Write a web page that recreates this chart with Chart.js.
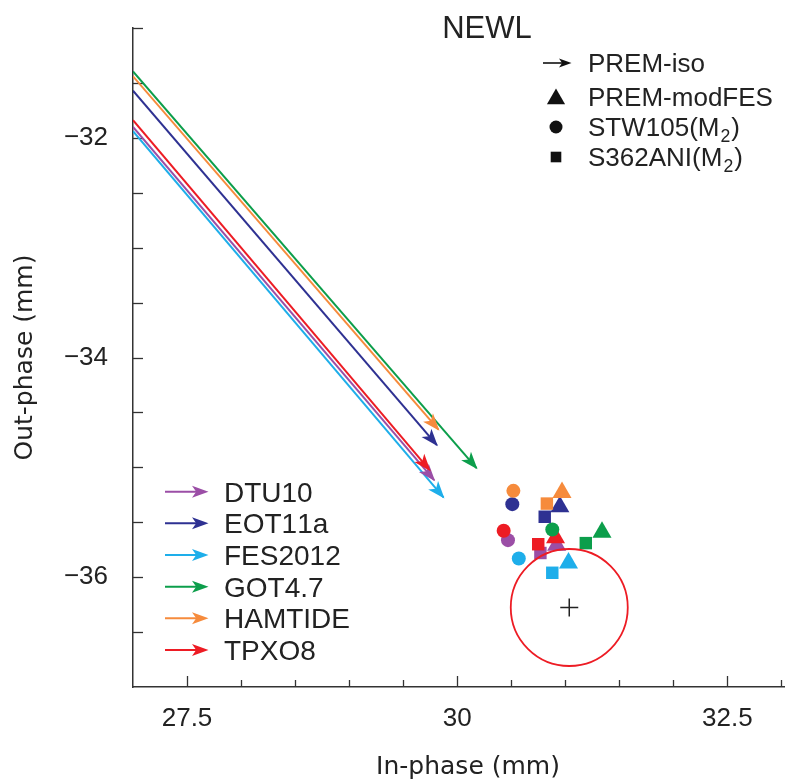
<!DOCTYPE html>
<html><head><meta charset="utf-8">
<script src="https://cdn.jsdelivr.net/npm/chart.js@4.4.1/dist/chart.umd.min.js"></script>
<style>html,body{margin:0;padding:0;overflow:hidden;background:#fff}canvas{display:block}</style>
</head><body>
<canvas id="c" width="805" height="784"></canvas>
<script>
// ---- data ----
const models = ['DTU10', 'EOT11a', 'FES2012', 'GOT4.7', 'HAMTIDE', 'TPXO8'];
const modelColors = ['#9b4ea6', '#2e3192', '#1eaeea', '#0c9e4b', '#f68b3c', '#ed1c24'];
// PREM-iso vectors (start at left plot edge, end at arrow tip)
const isoStartX = [27, 27, 27, 27, 27, 27];
const isoStartY = [-31.90, -31.57, -31.94, -31.396, -31.44, -31.84];
const isoEndX = [29.787, 29.812, 29.873, 30.179, 29.827, 29.745];
const isoEndY = [-35.116, -34.797, -35.274, -35.007, -34.656, -35.025];
// PREM-modFES (triangles)
const modFesX = [30.92, 30.95, 31.03, 31.34, 30.97, 30.91];
const modFesY = [-35.71, -35.36, -35.87, -35.59, -35.23, -35.64];
// STW105(M2) (circles)
const stwX = [30.47, 30.51, 30.57, 30.88, 30.52, 30.43];
const stwY = [-35.663, -35.335, -35.83, -35.566, -35.214, -35.578];
// S362ANI(M2) (squares)
const s362X = [30.77, 30.81, 30.88, 31.19, 30.83, 30.75];
const s362Y = [-35.78, -35.45, -35.96, -35.69, -35.33, -35.70];
// observed reference point
const refX = [31.037];
const refY = [-36.276];
const xTickLabels = [27.5, 30, 32.5];
const yTickLabels = [-32, -34, -36];
const symbolNames = ['PREM-iso', 'PREM-modFES', 'STW105(M_2)', 'S362ANI(M_2)'];
const symbolShapes = ['arrow', 'triangle', 'circle', 'rect'];
const stationTitle = 'NEWL';

// ---- helpers ----
const LS = '"Liberation Sans", Arial, sans-serif';
const TXT = '#222';
function pts(xs, ys) { return xs.map((v, i) => ({x: v, y: ys[i]})); }
function arrowHead(ctx, x1, y1, x2, y2, len, half, color) {
  const a = Math.atan2(y2 - y1, x2 - x1);
  ctx.save();
  ctx.translate(x2, y2); ctx.rotate(a);
  ctx.beginPath();
  ctx.moveTo(1.5, 0);
  ctx.lineTo(-len, -half);
  ctx.lineTo(-len * 0.72, 0);
  ctx.lineTo(-len, half);
  ctx.closePath();
  ctx.fillStyle = color; ctx.fill();
  ctx.restore();
}
function drawShape(ctx, shape, x, y, r) {
  ctx.beginPath();
  if (shape === 'triangle') {
    for (let k = 0; k < 3; k++) {
      const a = k * 2 * Math.PI / 3;
      const px = x + Math.sin(a) * r, py = y - Math.cos(a) * r;
      k ? ctx.lineTo(px, py) : ctx.moveTo(px, py);
    }
    ctx.closePath();
  } else if (shape === 'circle') {
    ctx.arc(x, y, r, 0, Math.PI * 2);
  } else if (shape === 'rect') {
    const s = r * Math.SQRT1_2;
    ctx.rect(x - s, y - s, 2 * s, 2 * s);
  }
  ctx.fill();
}
function drawRich(ctx, text, x, yMid, size) {
  let cx = x;
  const base = yMid + 0.358 * size;
  ctx.textAlign = 'left'; ctx.textBaseline = 'alphabetic';
  for (let i = 0; i < text.length; i++) {
    const ch = text[i];
    if (ch === '_' && i + 1 < text.length) {
      const s = text[++i];
      ctx.font = (size * 0.68) + 'px ' + LS;
      ctx.fillText(s, cx + 1, base + size * 0.2);
      cx += ctx.measureText(s).width + 2;
    } else {
      ctx.font = size + 'px ' + LS;
      ctx.fillText(ch, cx, base);
      cx += ctx.measureText(ch).width;
    }
  }
}

const overlay = {
  id: 'overlay',
  beforeDatasetsDraw(chart) {
    const {ctx, scales: {x, y}, chartArea: ca} = chart;
    ctx.save();
    ctx.strokeStyle = '#333'; ctx.lineWidth = 1.3;
    x.ticks.forEach(t => {
      if (t.value <= x.min + 1e-9) return;
      const px = Math.round(x.getPixelForValue(t.value)) + 0.5;
      const major = xTickLabels.some(v => Math.abs(v - t.value) < 1e-6);
      const L = major ? 11 : 7;
      ctx.beginPath(); ctx.moveTo(px, ca.bottom); ctx.lineTo(px, ca.bottom - L); ctx.stroke();
    });
    y.ticks.forEach(t => {
      if (t.value <= y.min + 1e-9) return;
      const py = Math.round(y.getPixelForValue(t.value)) + 0.5;
      ctx.beginPath(); ctx.moveTo(ca.left, py); ctx.lineTo(ca.left + 10, py); ctx.stroke();
    });
    ctx.restore();
  },
  afterDatasetsDraw(chart) {
    const {ctx} = chart;
    ctx.save();
    chart.data.datasets.forEach((ds, i) => {
      if (!ds.isArrow) return;
      const m = chart.getDatasetMeta(i).data;
      arrowHead(ctx, m[0].x, m[0].y, m[1].x, m[1].y, 16, 6.5, ds.borderColor);
    });
    ctx.restore();
  },
  afterDraw(chart) {
    const {ctx} = chart;
    ctx.save();
    ctx.fillStyle = TXT;
    // title
    ctx.font = '31px ' + LS; ctx.textAlign = 'center'; ctx.textBaseline = 'alphabetic';
    ctx.fillText(stationTitle, 487, 26.7 + 0.358 * 31);
    // symbol legend (top right)
    const rows = [63, 97, 127, 157];
    symbolNames.forEach((name, i) => {
      const yy = rows[i];
      ctx.fillStyle = '#111'; ctx.strokeStyle = '#111';
      if (symbolShapes[i] === 'arrow') {
        ctx.lineWidth = 1.6;
        ctx.beginPath(); ctx.moveTo(543, yy); ctx.lineTo(566, yy); ctx.stroke();
        arrowHead(ctx, 543, yy, 570, yy, 11, 4.5, '#111');
      } else {
        const r = symbolShapes[i] === 'triangle' ? 10.5 : symbolShapes[i] === 'circle' ? 6.5 : 7.5;
        drawShape(ctx, symbolShapes[i], 556, yy + (symbolShapes[i] === 'triangle' ? 2 : 0), r);
      }
      ctx.fillStyle = TXT;
      drawRich(ctx, name, 588, yy, 26);
    });
    // model legend (bottom left)
    const rows2 = [491.7, 523.3, 555, 586.7, 618.3, 650];
    models.forEach((name, i) => {
      const yy = rows2[i];
      ctx.strokeStyle = modelColors[i]; ctx.lineWidth = 2;
      ctx.beginPath(); ctx.moveTo(165, yy); ctx.lineTo(204, yy); ctx.stroke();
      arrowHead(ctx, 165, yy, 207, yy, 15, 6, modelColors[i]);
      ctx.fillStyle = TXT;
      drawRich(ctx, name, 224, yy, 28);
    });
    ctx.restore();
  }
};

// ---- datasets (back to front) ----
const datasets = [];
models.forEach((m, i) => {
  datasets.push({
    label: m + ' PREM-iso', isArrow: true, showLine: true,
    data: [{x: isoStartX[i], y: isoStartY[i]}, {x: isoEndX[i], y: isoEndY[i]}],
    borderColor: modelColors[i], borderWidth: 2, pointRadius: 0, fill: false
  });
});
datasets.push({label: 'PREM-modFES', data: pts(modFesX, modFesY), pointStyle: 'triangle', pointRadius: 11,
  pointBackgroundColor: modelColors, pointBorderWidth: 0, showLine: false});
datasets.push({label: 'STW105', data: pts(stwX, stwY), pointStyle: 'circle', pointRadius: 7,
  pointBackgroundColor: modelColors, pointBorderWidth: 0, showLine: false});
datasets.push({label: 'S362ANI', data: pts(s362X, s362Y), pointStyle: 'rect', pointRadius: 8.8,
  pointBackgroundColor: modelColors, pointBorderWidth: 0, showLine: false});
datasets.push({label: 'obs-circle', data: pts(refX, refY), pointStyle: 'circle', pointRadius: 58.5,
  pointBackgroundColor: 'rgba(0,0,0,0)', pointBorderColor: '#ed1c24', pointBorderWidth: 1.8, showLine: false});
datasets.push({label: 'obs', data: pts(refX, refY), pointStyle: 'cross', pointRadius: 9,
  pointBorderColor: '#222', pointBorderWidth: 1.5, showLine: false});
datasets.forEach((d, i) => { d.order = -i; });

new Chart(document.getElementById('c'), {
  type: 'scatter',
  data: {datasets},
  options: {
    responsive: false, animation: false, events: [],
    layout: {autoPadding: false, padding: {left: 0, top: 28, right: 2, bottom: 0}},
    plugins: {legend: {display: false}, tooltip: {enabled: false}, title: {display: false}},
    scales: {
      x: {
        type: 'linear', min: 27, max: 33.2,
        afterFit(s) { s.height = 97; s.paddingLeft = 0; s.paddingRight = 0; },
        grid: {display: true, color: 'rgba(0,0,0,0)', drawTicks: false},
        border: {display: true, color: '#333', width: 1.5},
        ticks: {stepSize: 0.5, includeBounds: false, autoSkip: false, maxRotation: 0, padding: 16,
          color: TXT, font: {family: LS, size: 26},
          callback: v => xTickLabels.some(t => Math.abs(t - v) < 1e-6) ? String(v) : ''},
        title: {display: true, text: 'In-phase (mm)', color: TXT,
          font: {family: '"DejaVu Sans", sans-serif', size: 25}, padding: {top: 0, bottom: 2}}
      },
      y: {
        type: 'linear', min: -37, max: -31,
        afterFit(s) { s.width = 133; s.paddingTop = 0; s.paddingBottom = 0; },
        grid: {display: true, color: 'rgba(0,0,0,0)', drawTicks: false},
        border: {display: true, color: '#333', width: 1.5},
        ticks: {stepSize: 0.5, includeBounds: false, autoSkip: false, padding: 25,
          color: TXT, font: {family: LS, size: 26},
          callback: v => yTickLabels.some(t => Math.abs(t - v) < 1e-6) ? '\u2212' + Math.abs(v) : ''},
        title: {display: true, text: 'Out-phase (mm)', color: TXT,
          font: {family: '"DejaVu Sans", sans-serif', size: 25}, padding: {top: 10, bottom: 0}}
      }
    }
  },
  plugins: [overlay]
});
</script>
</body></html>
